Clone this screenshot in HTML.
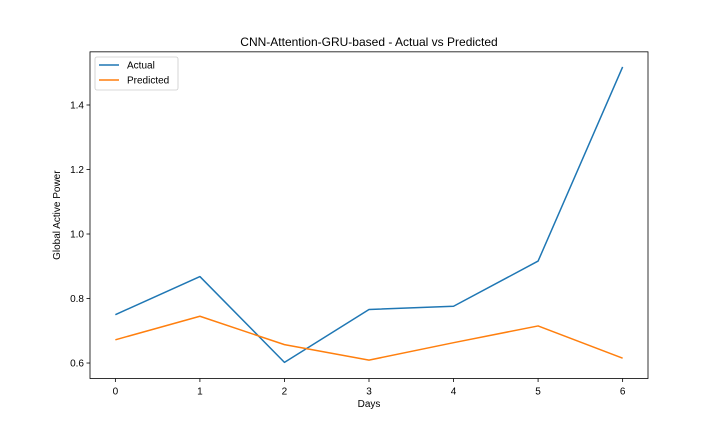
<!DOCTYPE html>
<html><head><meta charset="utf-8"><style>
body{margin:0;background:#fff;}
svg{display:block;font-family:"Liberation Sans","DejaVu Sans",sans-serif;}
</style></head><body>
<svg id="chart" width="720" height="432"></svg>
<script>
const days=[0,1,2,3,4,5,6];
const actual=[0.750,0.868,0.602,0.766,0.776,0.916,1.518];
const predicted=[0.672,0.745,0.657,0.609,0.663,0.715,0.615];
const yTicks=[0.6,0.8,1.0,1.2,1.4];
const yTickLabels=["0.6","0.8","1.0","1.2","1.4"];

const L=90,R=648,T=51.84,B=378.5;
const xmin=-0.3,xmax=6.3,ymin=0.552,ymax=1.5648;
const sx=v=>L+(v-xmin)/(xmax-xmin)*(R-L);
const sy=v=>B-(v-ymin)/(ymax-ymin)*(B-T);
const svg=document.getElementById('chart');
const NS='http://www.w3.org/2000/svg';
function mk(tag,attrs,parent){const e=document.createElementNS(NS,tag);for(const k in attrs)e.setAttribute(k,attrs[k]);(parent||svg).appendChild(e);return e;}

const title=mk('text',{x:(L+R)/2,y:46,'text-anchor':'middle','font-size':12});
title.textContent='CNN-Attention-GRU-based - Actual vs Predicted';



days.forEach(d=>{
  const x=sx(d);
  const t=mk('line',{x1:x,x2:x,y1:B,y2:B+3.5,stroke:'#000','stroke-width':0.8});
  
  
  const lb=mk('text',{x:x,y:B+16,'text-anchor':'middle','font-size':10});
  lb.textContent=String(d);
  
  
});
yTicks.forEach((v,i)=>{
  const y=sy(v);
  const t=mk('line',{x1:L-3.5,x2:L,y1:y,y2:y,stroke:'#000','stroke-width':0.8});
  
  
  const lb=mk('text',{x:L-6,y:y+3.5,'text-anchor':'end','font-size':10});
  lb.textContent=yTickLabels[i];
  
  
});

function series(vals,color,name){
  const p=mk('polyline',{points:vals.map((v,i)=>sx(days[i])+','+sy(v)).join(' '),fill:'none',stroke:color,'stroke-width':1.5,'stroke-linejoin':'round'});
  
  
}
series(actual,'#1f77b4','actual-line');
series(predicted,'#ff7f0e','predicted-line');

const frame=mk('rect',{x:L,y:T,width:R-L,height:B-T,fill:'none',stroke:'#000','stroke-width':0.8});



const xl=mk('text',{x:(L+R)/2,y:407,'text-anchor':'middle','font-size':10});
xl.textContent='Days';


const yl=mk('text',{x:0,y:0,'text-anchor':'middle','font-size':10,transform:'translate(60,'+((T+B)/2)+') rotate(-90)'});
yl.textContent='Global Active Power';



const lg=mk('g',{});


mk('rect',{x:95,y:57,width:83,height:33,rx:2,fill:'#fff',stroke:'#ccc','stroke-width':0.8},lg);
[['Actual','#1f77b4',65],['Predicted','#ff7f0e',80]].forEach(([n,c,y])=>{
  const e=mk('g',{},lg);
  
  
  mk('line',{x1:99,x2:119,y1:y,y2:y,stroke:c,'stroke-width':1.5},e);
  const t=mk('text',{x:127,y:y+3.5,'font-size':10},e);
  t.textContent=n;
});
</script>
</body></html>
